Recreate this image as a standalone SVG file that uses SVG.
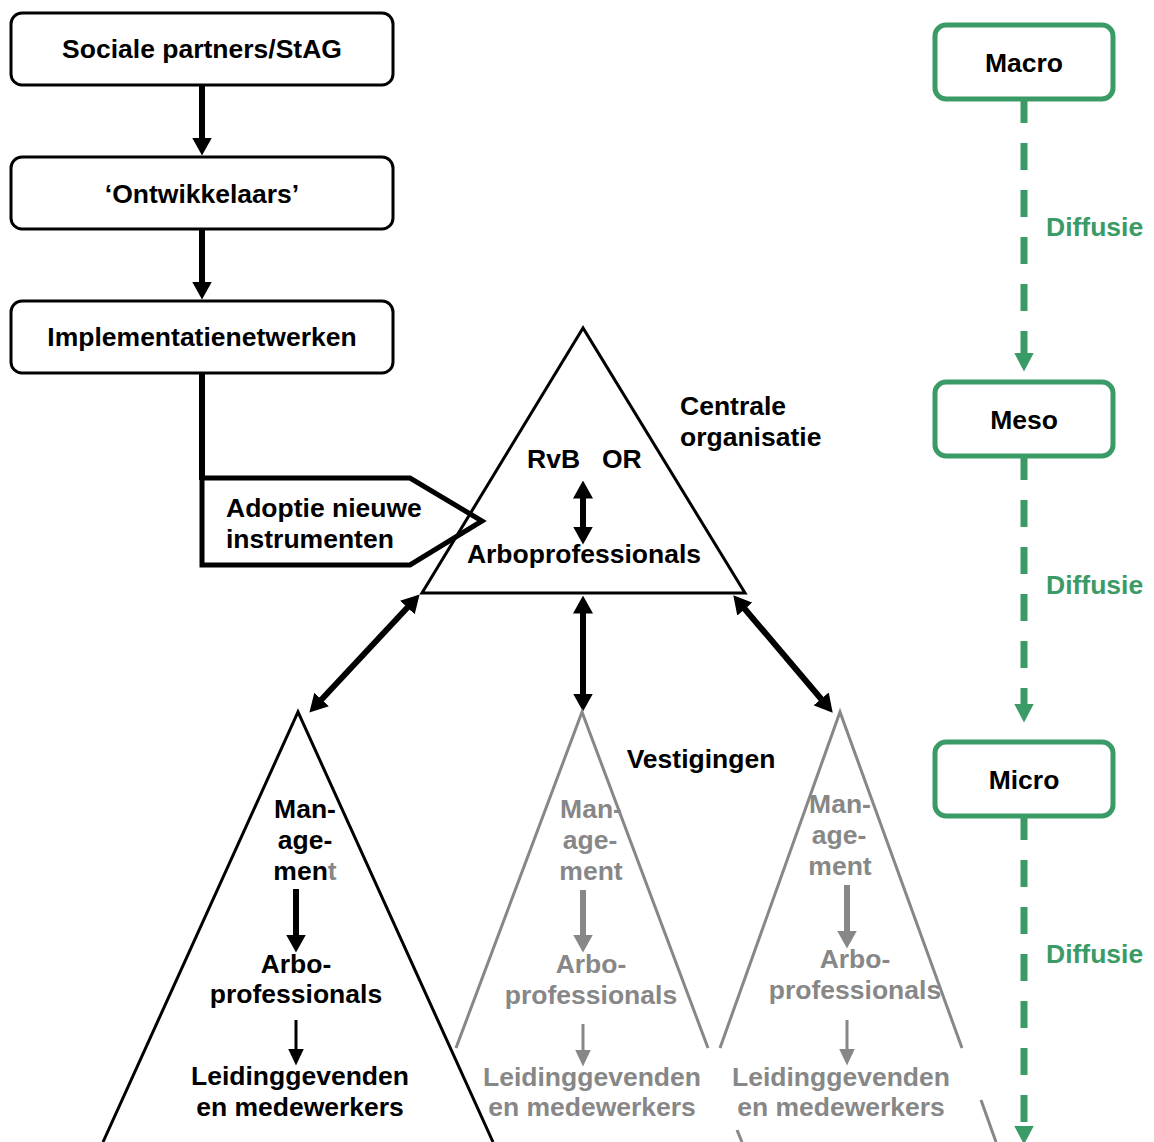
<svg xmlns="http://www.w3.org/2000/svg" width="1154" height="1142" viewBox="0 0 1154 1142">
<style>
.t{font-family:"Liberation Sans",Arial,sans-serif;font-weight:bold;font-size:26.5px;fill:#000}
.c{text-anchor:middle}
.g{fill:#878787}
.gt{fill:#3a9b67}
.box{fill:#fff;stroke:#000;stroke-width:3}
.gbox{fill:#fff;stroke:#3a9b67;stroke-width:5}
.tri{fill:none;stroke:#000;stroke-width:3;stroke-linejoin:miter}
.gtri{fill:none;stroke:#878787;stroke-width:3}
.blk{stroke:#000;stroke-width:6;fill:none}
.thin{stroke:#000;stroke-width:3;fill:none}
.gthk{stroke:#878787;stroke-width:6;fill:none}
.gthin{stroke:#878787;stroke-width:3;fill:none}
.dash{stroke:#3a9b67;stroke-width:7;stroke-dasharray:27 20;fill:none}
</style>
<defs>
<marker id="ahB" viewBox="0 0 18 20" refX="0.5" refY="10" markerWidth="18" markerHeight="20" markerUnits="userSpaceOnUse" orient="auto-start-reverse"><path d="M0,0 L18,10 L0,20 z" fill="#000"/></marker>
<marker id="ahG" viewBox="0 0 18 20" refX="0.5" refY="10" markerWidth="18" markerHeight="20" markerUnits="userSpaceOnUse" orient="auto-start-reverse"><path d="M0,0 L18,10 L0,20 z" fill="#878787"/></marker>
<marker id="ahBt" viewBox="0 0 17 16" refX="0.5" refY="8" markerWidth="17" markerHeight="16" markerUnits="userSpaceOnUse" orient="auto"><path d="M0,0 L17,8 L0,16 z" fill="#000"/></marker>
<marker id="ahGt" viewBox="0 0 17 16" refX="0.5" refY="8" markerWidth="17" markerHeight="16" markerUnits="userSpaceOnUse" orient="auto"><path d="M0,0 L17,8 L0,16 z" fill="#878787"/></marker>
<marker id="ahGr" viewBox="0 0 19 20" refX="0.5" refY="10" markerWidth="19" markerHeight="20" markerUnits="userSpaceOnUse" orient="auto"><path d="M0,0 L19,10 L0,20 z" fill="#3a9b67"/></marker>
</defs>
<rect width="1154" height="1142" fill="#fff"/>

<g id="connectors">
  <line class="blk" x1="202" y1="86" x2="202" y2="138" marker-end="url(#ahB)"/>
  <line class="blk" x1="202" y1="230" x2="202" y2="282" marker-end="url(#ahB)"/>
  <line class="blk" x1="202" y1="373" x2="202" y2="480"/>
  <line class="blk" x1="407.7" y1="607.2" x2="321.3" y2="699.8" marker-start="url(#ahB)" marker-end="url(#ahB)"/>
  <line class="blk" x1="583" y1="613" x2="583" y2="694" marker-start="url(#ahB)" marker-end="url(#ahB)"/>
  <line class="blk" x1="744.6" y1="608.7" x2="821.4" y2="699.3" marker-start="url(#ahB)" marker-end="url(#ahB)"/>
  <line class="dash" x1="1024" y1="96" x2="1024" y2="353" marker-end="url(#ahGr)"/>
  <line class="dash" x1="1024" y1="453" x2="1024" y2="704" marker-end="url(#ahGr)"/>
  <line class="dash" x1="1024" y1="813" x2="1024" y2="1126" marker-end="url(#ahGr)"/>
</g>

<g id="sociale-partners">
  <rect class="box" x="11" y="13" width="382" height="72" rx="11"/>
  <text class="t c" x="202" y="58">Sociale partners/StAG</text>
</g>
<g id="ontwikkelaars">
  <rect class="box" x="11" y="157" width="382" height="72" rx="11"/>
  <text class="t c" x="202" y="203">‘Ontwikkelaars’</text>
</g>
<g id="implementatienetwerken">
  <rect class="box" x="11" y="301" width="382" height="72" rx="11"/>
  <text class="t c" x="202" y="346">Implementatienetwerken</text>
</g>

<g id="adoptie">
  <polygon points="202,478 410,478 482,521 410,565 202,565" fill="#fff" stroke="#000" stroke-width="5"/>
  <text class="t" x="226" y="517">Adoptie nieuwe</text>
  <text class="t" x="226" y="548">instrumenten</text>
</g>

<g id="centrale-organisatie">
  <polygon class="tri" points="583,328 422,593 745,593"/>
  <text class="t" x="527" y="468">RvB</text>
  <text class="t" x="602" y="468">OR</text>
  <line class="blk" x1="583" y1="498" x2="583" y2="527" marker-start="url(#ahB)" marker-end="url(#ahB)"/>
  <text class="t c" x="584" y="563">Arboprofessionals</text>
  <text class="t" x="680" y="415">Centrale</text>
  <text class="t" x="680" y="446">organisatie</text>
</g>

<g id="vestigingen-label">
  <text class="t c" x="701" y="768">Vestigingen</text>
</g>

<g id="vestiging-1">
  <polyline class="tri" points="103,1142 298,712 493,1142"/>
  <text class="t c" x="305" y="818">Man-</text>
  <text class="t c" x="305" y="849">age-</text>
  <text class="t c" x="305" y="880">men<tspan class="g">t</tspan></text>
  <line class="blk" x1="296" y1="889" x2="296" y2="935" marker-end="url(#ahB)"/>
  <text class="t c" x="296" y="973">Arbo-</text>
  <text class="t c" x="296" y="1003">professionals</text>
  <line class="thin" x1="296" y1="1020" x2="296" y2="1049" marker-end="url(#ahBt)"/>
  <text class="t c" x="300" y="1085">Leidinggevenden</text>
  <text class="t c" x="300" y="1116">en medewerkers</text>
</g>

<g id="vestiging-2">
  <polyline class="gtri" points="456,1048 582,712 708,1048"/>
  <line class="gtri" x1="737" y1="1130" x2="742" y2="1142"/>
  <text class="t c g" x="591" y="818">Man-</text>
  <text class="t c g" x="590" y="849">age-</text>
  <text class="t c g" x="591" y="880">ment</text>
  <line class="gthk" x1="583" y1="890" x2="583" y2="935" marker-end="url(#ahG)"/>
  <text class="t c g" x="591" y="973">Arbo-</text>
  <text class="t c g" x="591" y="1004">professionals</text>
  <line class="gthin" x1="583" y1="1024" x2="583" y2="1050" marker-end="url(#ahGt)"/>
  <text class="t c g" x="592" y="1086">Leidinggevenden</text>
  <text class="t c g" x="592" y="1116">en medewerkers</text>
</g>

<g id="vestiging-3">
  <polyline class="gtri" points="720,1048 840,712 962,1048"/>
  <line class="gtri" x1="981" y1="1100" x2="996" y2="1142"/>
  <text class="t c g" x="840" y="813">Man-</text>
  <text class="t c g" x="839" y="844">age-</text>
  <text class="t c g" x="840" y="875">ment</text>
  <line class="gthk" x1="847" y1="885" x2="847" y2="931" marker-end="url(#ahG)"/>
  <text class="t c g" x="855" y="968">Arbo-</text>
  <text class="t c g" x="855" y="999">professionals</text>
  <line class="gthin" x1="847" y1="1020" x2="847" y2="1049" marker-end="url(#ahGt)"/>
  <text class="t c g" x="841" y="1086">Leidinggevenden</text>
  <text class="t c g" x="841" y="1116">en medewerkers</text>
</g>

<g id="macro">
  <rect class="gbox" x="935" y="25" width="178" height="74" rx="11"/>
  <text class="t c" x="1024" y="72">Macro</text>
</g>
<g id="meso">
  <rect class="gbox" x="935" y="382" width="178" height="74" rx="11"/>
  <text class="t c" x="1024" y="429">Meso</text>
</g>
<g id="micro">
  <rect class="gbox" x="935" y="742" width="178" height="74" rx="11"/>
  <text class="t c" x="1024" y="789">Micro</text>
</g>
<g id="diffusie-labels">
  <text class="t gt" x="1046" y="236">Diffusie</text>
  <text class="t gt" x="1046" y="594">Diffusie</text>
  <text class="t gt" x="1046" y="963">Diffusie</text>
</g>
</svg>
